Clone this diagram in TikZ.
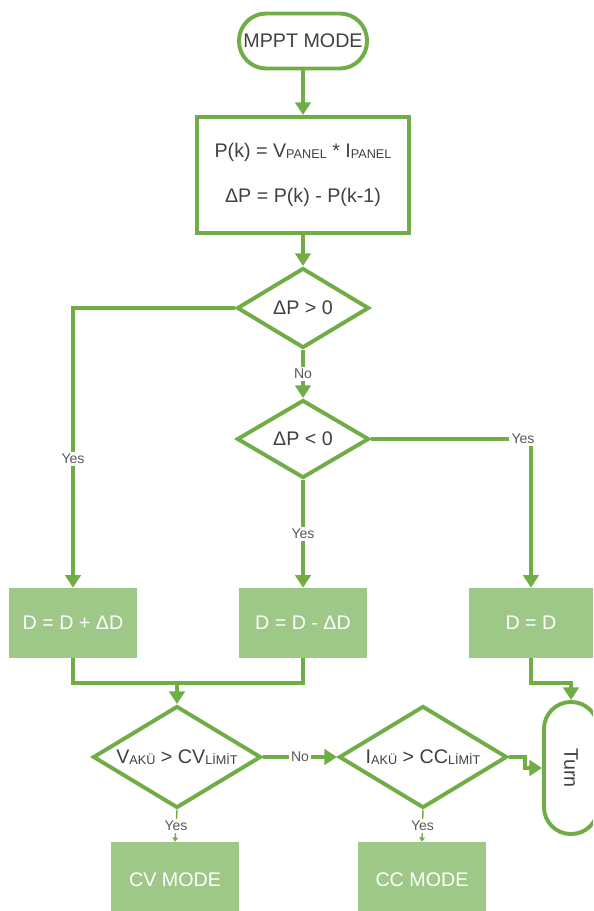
\documentclass[tikz,border=0pt]{standalone}
\usepackage{fontspec}
\setmainfont{Liberation Sans}
\usetikzlibrary{shapes.geometric, arrows.meta}
\definecolor{lineGreen}{RGB}{112,173,71}
\definecolor{boxGreen}{RGB}{157,200,136}
\definecolor{txtGray}{RGB}{64,64,64}
\definecolor{lblGray}{RGB}{89,89,89}
\newcommand{\idx}[1]{\raisebox{-0.8pt}{\fontsize{9}{9}\selectfont #1}}

\begin{document}
\begin{tikzpicture}[x=0.025cm, y=-0.025cm,
	every node/.style={font=\fontsize{14}{17}\selectfont},
	terminal/.style={draw=lineGreen, line width=2.8pt, fill=white, text=txtGray, rounded corners=0.68cm, inner sep=0pt},
	process/.style={draw=lineGreen, line width=2.8pt, fill=white, text=txtGray, align=center},
	decision/.style={diamond, draw=lineGreen, line width=2.8pt, fill=white, inner sep=0pt},
	dtext/.style={text=txtGray},
	action/.style={fill=boxGreen, text=white, inner sep=0pt},
	flow/.style={draw=lineGreen, line width=2.8pt, -{Triangle[width=11pt,length=9pt]}},
	link/.style={draw=lineGreen, line width=2.8pt},
	thin flow/.style={draw=lineGreen, line width=1pt, -{Triangle[width=4pt,length=3pt]}},
	answer/.style={fill=white, text=lblGray, font=\fontsize{10}{12}\selectfont, inner sep=1.5pt}]
	\clip (0,0) rectangle (593,911);
	% The main column
	\node[terminal, minimum width=3.2cm, minimum height=1.375cm] (mppt) at (303,41) {MPPT MODE};
	\node[process, minimum width=5.3cm, minimum height=2.9cm] (calc) at (303,175) {P(k) = V\idx{PANEL} * I\idx{PANEL}\\[15pt] ΔP = P(k) - P(k-1)};
	\node[decision, minimum width=3.3cm, minimum height=2cm, label={[dtext]center:ΔP > 0}] (dp1) at (303,308) {};
	\node[decision, minimum width=3.3cm, minimum height=1.95cm, label={[dtext]center:ΔP < 0}] (dp2) at (303,439) {};
	% Duty cycle updates
	\node[action, minimum width=3.175cm, minimum height=1.75cm] (inc) at (73,623) {D = D + ΔD};
	\node[action, minimum width=3.175cm, minimum height=1.75cm] (dec) at (303,623) {D = D - ΔD};
	\node[action, minimum width=3.1cm, minimum height=1.75cm] (hold) at (531,623) {D = D};
	% Battery checks
	\node[decision, minimum width=4.2cm, minimum height=2.55cm, label={[dtext]center:V\idx{AKÜ} > CV\idx{LİMİT}}] (vchk) at (177,757) {};
	\node[decision, minimum width=4.2cm, minimum height=2.55cm, label={[dtext]center:I\idx{AKÜ} > CC\idx{LİMİT}}] (ichk) at (423,757) {};
	\node[terminal, minimum width=1.35cm, minimum height=3.3cm, rounded corners=0.67cm] (turn) at (571,768) {\rotatebox{-90}{Turn}};
	\node[action, minimum width=3.175cm, minimum height=1.9cm] (cvm) at (175,880) {CV MODE};
	\node[action, minimum width=3.175cm, minimum height=1.9cm] (ccm) at (422,880) {CC MODE};
	% Connectors
	\draw[flow] (mppt) -- (calc);
	\draw[flow] (calc) -- (dp1);
	\draw[flow] (dp1.west) -| node[answer, pos=0.77] {Yes} (inc.north);
	\draw[flow] (dp1.south) -- node[answer] {No} (dp2.north);
	\draw[flow] (dp2.east) -| node[answer, pos=0.5, xshift=-0.2cm] {Yes} (hold.north);
	\draw[flow] (dp2.south) -- node[answer] {Yes} (dec.north);
	\coordinate (merge) at (177,683);
	\draw[link] (inc.south) |- (merge) -| (dec.south);
	\draw[flow] (merge) -- (vchk.north);
	\draw[flow] (vchk.east) -- node[answer] {No} (ichk.west);
	\draw[flow] (ichk.east) -- ++(16,0) |- (turn.west);
	\draw[flow] (hold.south) -- ++(0,25) -| (turn.north);
	\draw[thin flow] (vchk.south) -- node[answer] {Yes} (cvm.north);
	\draw[thin flow] (ichk.south) -- node[answer] {Yes} (ccm.north);
\end{tikzpicture}
\end{document}
